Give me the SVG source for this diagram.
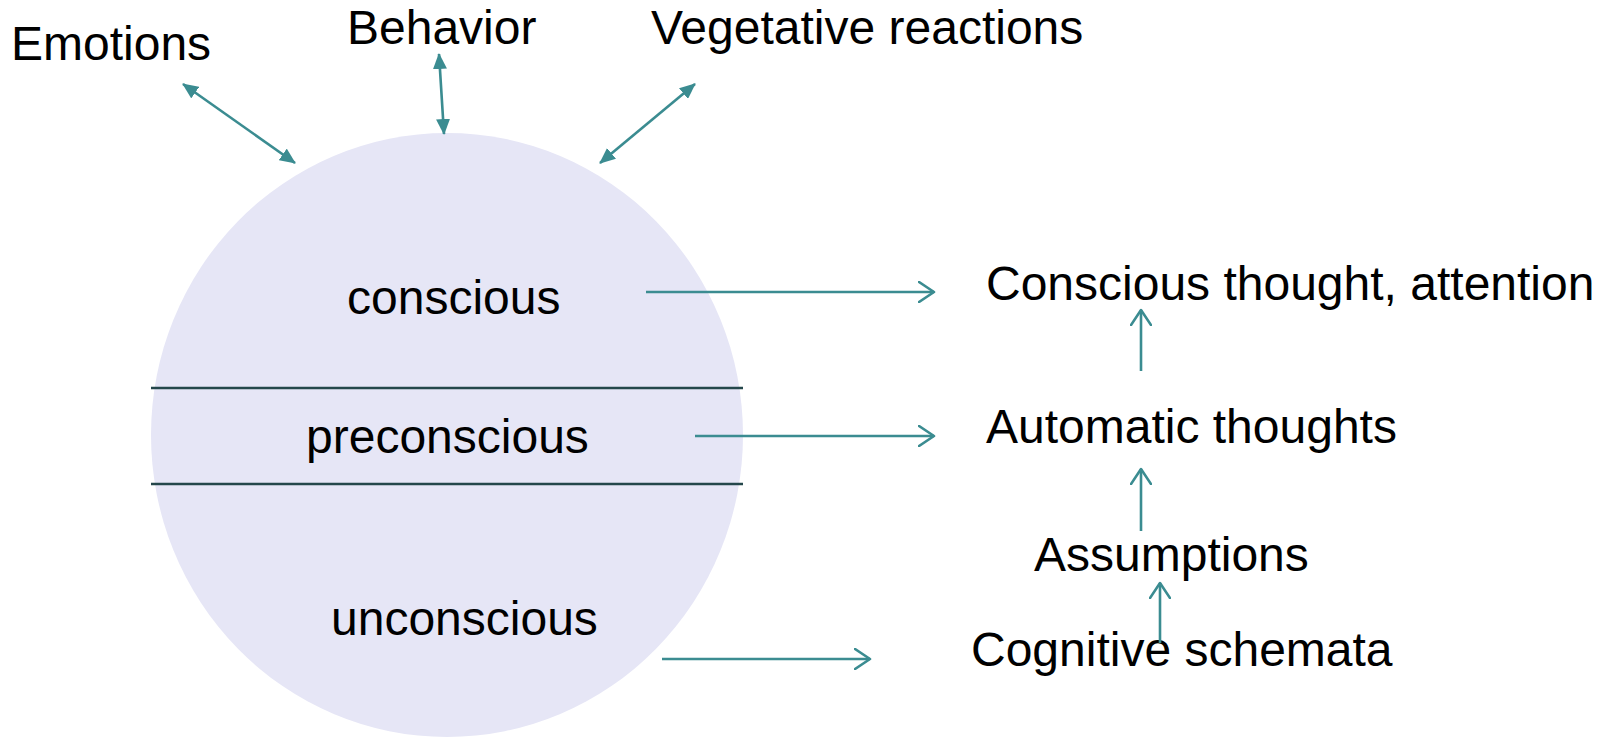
<svg xmlns="http://www.w3.org/2000/svg" width="1614" height="738" viewBox="0 0 1614 738">
  <style>
    .lbl { font-family: "Liberation Sans", Arial, sans-serif; font-size: 48px; fill: #000; }
    .mid { text-anchor: middle; }
    .link { stroke: #3b8c91; stroke-width: 2.6; fill: none; }
    .divider { stroke: #24474b; stroke-width: 2.5; }
  </style>
  <defs>
    <marker id="solid" viewBox="0 0 16 14" refX="15" refY="7" markerWidth="16" markerHeight="14" markerUnits="userSpaceOnUse" orient="auto-start-reverse">
      <path d="M0,0 L16,7 L0,14 Z" fill="#3b8c91"/>
    </marker>
    <marker id="open" viewBox="0 0 18 22" refX="16" refY="11" markerWidth="18" markerHeight="22" markerUnits="userSpaceOnUse" orient="auto">
      <path d="M1,1 L16,11 L1,21" fill="none" stroke="#3b8c91" stroke-width="2.6" stroke-linecap="round" stroke-linejoin="round"/>
    </marker>
  </defs>

  <!-- mind sphere with its three levels -->
  <g id="mind">
    <ellipse cx="447" cy="435" rx="296" ry="302" fill="#e6e6f6"/>
    <line class="divider" x1="151" y1="388" x2="743" y2="388"/>
    <line class="divider" x1="151" y1="484" x2="743" y2="484"/>
  </g>
  <g id="conscious"><text class="lbl" x="347" y="314">conscious</text></g>
  <g id="preconscious"><text class="lbl" x="306" y="453">preconscious</text></g>
  <g id="unconscious"><text class="lbl" x="331" y="635">unconscious</text></g>

  <!-- outward manifestations -->
  <g id="emotions"><text class="lbl" x="11" y="60">Emotions</text></g>
  <g id="behavior"><text class="lbl" x="347" y="44">Behavior</text></g>
  <g id="vegetative"><text class="lbl" x="651" y="44">Vegetative reactions</text></g>

  <!-- cognitive levels -->
  <g id="conscious-thought"><text class="lbl" x="986" y="300">Conscious thought, attention</text></g>
  <g id="automatic-thoughts"><text class="lbl" x="986" y="443">Automatic thoughts</text></g>
  <g id="assumptions"><text class="lbl" x="1034" y="571">Assumptions</text></g>
  <g id="schemata"><text class="lbl" x="971" y="666">Cognitive schemata</text></g>

  <g id="connectors">
    <line class="link" x1="183" y1="84" x2="295" y2="163" marker-start="url(#solid)" marker-end="url(#solid)"/>
    <line class="link" x1="439" y1="54" x2="444" y2="134" marker-start="url(#solid)" marker-end="url(#solid)"/>
    <line class="link" x1="695" y1="84" x2="600" y2="163" marker-start="url(#solid)" marker-end="url(#solid)"/>

    <line class="link" x1="646" y1="292" x2="934" y2="292" marker-end="url(#open)"/>
    <line class="link" x1="695" y1="436" x2="934" y2="436" marker-end="url(#open)"/>
    <line class="link" x1="662" y1="659" x2="870" y2="659" marker-end="url(#open)"/>

    <line class="link" x1="1141" y1="371" x2="1141" y2="310" marker-end="url(#open)"/>
    <line class="link" x1="1141" y1="531" x2="1141" y2="469" marker-end="url(#open)"/>
    <line class="link" x1="1160" y1="643" x2="1160" y2="583" marker-end="url(#open)"/>
  </g>
</svg>
